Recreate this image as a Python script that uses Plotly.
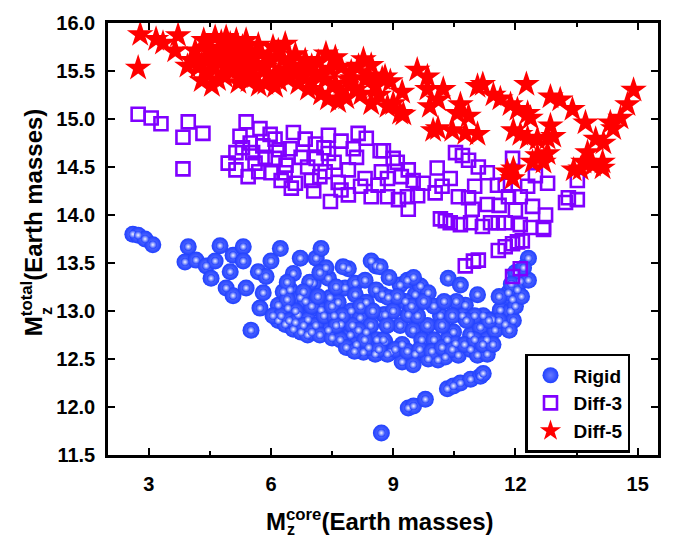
import plotly.graph_objects as go

# ---------------- data ----------------
rigid_x = [2.61, 2.74, 2.91, 3.10,
           3.97, 3.89, 4.16, 4.41, 4.63, 4.75, 4.53, 4.90, 5.07, 5.00, 5.07, 5.32, 5.32, 5.39, 5.69, 5.88, 5.81, 5.73, 6.00, 6.23, 5.51,
           6.18, 6.42, 6.47, 6.55, 6.72, 6.72, 6.67, 6.18, 6.35, 6.55, 6.74, 6.91, 6.85, 7.04, 7.11, 7.23, 6.95, 7.23, 7.41, 7.45, 7.41,
           7.65, 7.72, 7.82, 7.90, 7.77, 8.07, 7.97, 8.07, 8.19, 8.31, 8.34, 8.46, 8.58, 8.34, 8.27, 8.56, 8.58, 8.76, 8.80, 8.71,
           6.30, 6.60, 7.00, 7.10, 7.30, 7.55, 7.60, 7.95, 8.10, 8.45, 8.20, 7.35, 6.90, 8.00, 8.60,
           8.68, 8.73, 8.80, 8.76, 8.93, 9.17, 9.35, 8.88, 9.54, 9.67, 9.86, 9.17, 9.37, 9.49, 9.84, 10.16, 10.35, 10.65, 11.07, 10.77,
           10.70, 10.48, 10.33, 10.90, 11.14, 11.21, 11.43, 11.63, 11.88, 11.75, 11.93, 11.83, 12.05, 12.12, 12.32, 12.32,
           9.22, 9.54, 9.86, 10.10, 10.28, 10.60, 10.90, 11.07, 11.31, 10.53, 8.86, 9.22, 9.49,
           9.00, 9.30, 9.60, 9.70, 10.00, 10.00, 10.20, 10.55, 11.00, 11.30, 11.50, 11.60, 11.95, 12.00, 12.20, 11.90,
           6.05, 6.25, 6.45, 6.60, 6.80, 7.00, 7.20, 7.50, 7.70, 7.85, 8.05, 8.40, 8.65, 9.05, 9.35, 9.65, 9.95, 10.20, 10.45, 10.75,
           11.00, 11.20, 11.45, 11.60, 11.85, 12.00, 12.15, 6.40, 6.80, 7.15, 7.50, 7.75, 8.15, 8.50, 8.85, 9.10, 9.45, 9.75, 10.25,
           10.45, 10.80, 11.35, 8.90, 9.50, 7.20, 6.40, 7.60, 8.30,
           10.33, 10.48, 10.65, 10.90, 11.14, 11.21, 9.37, 9.50, 9.79]
rigid_y = [13.80, 13.79, 13.75, 13.69,
           13.67, 13.51, 13.53, 13.47, 13.52, 13.68, 13.34, 13.24, 13.16, 13.41, 13.58, 13.67, 13.52, 13.24, 13.41, 13.36, 13.19, 13.03, 13.52, 13.65, 12.80,
           13.06, 13.03, 13.22, 13.39, 13.55, 13.14, 12.96, 12.90, 12.86, 12.81, 12.78, 12.91, 13.10, 13.29, 13.55, 13.65, 13.30, 13.01, 13.34, 13.14, 12.80,
           13.09, 12.86, 13.24, 13.44, 13.46, 13.29, 13.00, 13.17, 12.93, 13.32, 13.09, 13.52, 13.47, 12.78, 12.57, 12.55, 13.22, 12.96, 12.68, 11.73,
           13.20, 13.00, 13.05, 12.85, 12.95, 12.95, 13.25, 12.75, 12.65, 12.85, 13.05, 13.45, 12.75, 12.85, 12.70,
           13.46, 13.17, 12.96, 12.70, 12.57, 13.27, 13.32, 13.14, 13.17, 13.26, 13.19, 12.85, 12.96, 12.80, 12.85, 12.95, 13.34, 13.27, 13.17, 13.06,
           12.95, 12.78, 12.70, 12.75, 12.83, 12.95, 12.91, 13.01, 13.00, 12.86, 13.12, 13.19, 13.22, 13.31, 13.32, 13.55,
           12.65, 12.55, 12.50, 12.49, 12.52, 12.54, 12.60, 12.54, 12.55, 12.66, 12.55, 12.47, 12.44,
           13.00, 13.10, 12.95, 12.70, 12.70, 13.05, 12.85, 13.10, 12.95, 12.70, 12.80, 13.15, 12.90, 13.40, 13.45, 13.28,
           12.95, 12.95, 12.90, 12.88, 12.85, 12.78, 12.75, 12.72, 12.70, 12.62, 12.58, 12.62, 12.60, 12.60, 12.58, 12.60, 12.58, 12.62, 12.60, 12.65,
           12.70, 12.65, 12.65, 12.90, 12.80, 13.05, 13.15, 13.12, 13.20, 13.15, 13.05, 12.95, 12.80, 13.00, 12.85, 13.15, 13.05, 13.10, 13.10,
           12.95, 12.90, 12.90, 13.35, 13.35, 13.40, 13.30, 12.85, 12.70,
           12.19, 12.22, 12.25, 12.29, 12.32, 12.35, 11.99, 12.01, 12.08]

diff3_x = [2.74, 3.06, 3.30, 3.97, 3.84, 4.33, 3.84,
           5.39, 5.24, 5.49, 5.73, 5.98, 6.10, 6.55, 6.84, 7.09, 7.41, 7.72, 8.14, 8.02, 8.34, 8.68, 5.14, 4.95, 5.14, 5.44, 5.61,
           5.86, 6.10, 6.00, 6.25, 6.37, 6.47, 6.74, 6.60, 6.99, 7.11, 7.33, 7.41, 7.65, 7.90, 7.90, 7.46, 7.72, 8.31, 8.63, 8.46, 8.71,
           5.30, 5.55, 5.80, 6.20, 6.35, 6.90, 7.20, 7.55, 7.05, 8.10, 8.20, 5.70, 6.50, 7.30,
           8.76, 9.00, 9.10, 9.37, 8.86, 8.86, 9.13, 9.35, 9.37, 9.49, 9.74, 10.08, 10.40, 10.03, 10.53, 10.70, 10.85, 11.09, 11.31,
           10.60, 10.85, 10.94, 11.31, 11.56, 11.75, 11.93, 11.83, 12.12, 12.42, 12.49, 12.79, 12.74, 12.69, 13.52, 13.30, 13.52, 13.23,
           9.20, 9.60, 10.20, 11.00, 11.60, 12.30, 12.00,
           10.16, 10.28, 10.40, 10.65, 10.90, 11.19, 11.39, 11.58, 11.75, 12.12, 12.37, 12.69,
           11.58, 11.75, 11.93, 12.05, 12.17, 10.77, 10.97, 11.09, 11.93, 12.12]
diff3_y = [15.05, 15.01, 14.95, 14.97, 14.81, 14.85, 14.48,
           14.97, 14.82, 14.75, 14.90, 14.84, 14.79, 14.86, 14.79, 14.74, 14.83, 14.77, 14.85, 14.69, 14.80, 14.67, 14.65, 14.54, 14.47, 14.40, 14.54,
           14.60, 14.59, 14.44, 14.36, 14.52, 14.69, 14.60, 14.33, 14.36, 14.59, 14.45, 14.64, 14.34, 14.47, 14.21, 14.14, 14.26, 14.38, 14.31, 14.19, 14.45,
           14.70, 14.65, 14.72, 14.68, 14.44, 14.50, 14.40, 14.55, 14.25, 14.60, 14.30, 14.45, 14.28, 14.70,
           14.67, 14.59, 14.55, 14.47, 14.38, 14.19, 14.16, 14.19, 14.06, 14.36, 14.33, 14.49, 14.38, 14.23, 14.65, 14.62, 14.57, 14.50, 14.44,
           14.19, 14.18, 14.06, 14.11, 14.31, 14.31, 14.59, 14.19, 14.19, 14.09, 14.41, 14.33, 14.00, 13.85, 14.36, 14.18, 14.16, 14.13,
           14.40, 14.20, 14.30, 14.30, 14.10, 14.30, 14.05,
           13.96, 13.94, 13.92, 13.90, 13.92, 13.88, 13.92, 13.92, 13.92, 13.90, 13.87, 13.87,
           13.63, 13.67, 13.70, 13.72, 13.73, 13.47, 13.52, 13.53, 13.36, 13.44]

diff5_x = [2.79, 3.18, 3.35, 3.72, 3.65, 2.74,
           4.14, 4.04, 4.21, 4.29, 4.46, 4.63, 4.78, 4.46, 4.70, 4.95, 5.12, 5.37, 5.61, 5.86, 5.93, 6.10, 6.35, 6.60, 5.44, 5.12, 4.87,
           4.46, 4.87, 4.70, 5.27, 5.61, 5.86, 6.10, 6.42, 6.67, 6.91, 7.23, 7.40, 7.65, 8.07, 8.22, 8.46, 8.56, 8.31, 7.09, 7.33, 7.58, 7.90, 8.80,
           5.39, 5.69, 6.35, 6.18, 6.60, 6.84, 7.16, 7.58, 7.72, 7.97, 8.27, 8.46,
           5.00, 5.25, 5.75, 6.00, 5.00, 4.60, 5.50, 6.45, 6.80, 7.00,
           4.35, 4.55, 4.80, 4.90, 5.15, 5.30, 5.45, 5.70, 5.95, 6.20, 6.30, 6.55, 6.75, 7.00, 7.25, 7.45, 7.70, 7.85, 8.00, 8.15,
           8.40, 8.65, 4.30, 4.55, 5.20, 3.95, 6.05, 7.35,
           8.73, 8.93, 9.22, 9.59, 9.84, 9.84, 10.23, 10.10, 9.90, 9.00, 9.17, 8.86, 9.25, 10.10, 10.45, 10.65, 10.85, 10.77, 11.07, 9.98, 10.57,
           11.07, 11.20, 11.46, 11.63, 11.88, 12.05, 12.30, 12.37, 11.95, 12.12, 12.30, 12.54, 12.86, 12.79, 12.93, 12.27, 12.86, 13.10, 13.40,
           13.72, 14.33, 14.40, 14.58, 14.75, 14.90, 13.97, 14.16, 13.77, 13.67, 13.43, 13.60, 13.90, 14.14, 14.14, 12.42, 12.54, 12.79, 12.69,
           11.80, 11.95, 11.93]
diff5_y = [15.88, 15.83, 15.79, 15.87, 15.71, 15.53,
           15.71, 15.61, 15.54, 15.57, 15.74, 15.85, 15.80, 15.64, 15.61, 15.67, 15.57, 15.61, 15.57, 15.54, 15.64, 15.47, 15.51, 15.47, 15.51, 15.71, 15.54,
           15.47, 15.44, 15.41, 15.47, 15.44, 15.37, 15.34, 15.42, 15.37, 15.31, 15.26, 15.21, 15.18, 15.30, 15.26, 15.16, 15.34, 15.41, 15.47, 15.41, 15.36, 15.41, 15.44,
           15.82, 15.77, 15.78, 15.71, 15.67, 15.61, 15.59, 15.64, 15.54, 15.49, 15.62, 15.56,
           15.78, 15.65, 15.68, 15.60, 15.50, 15.55, 15.70, 15.60, 15.45, 15.55,
           15.82, 15.68, 15.70, 15.85, 15.82, 15.75, 15.40, 15.35, 15.45, 15.40, 15.62, 15.55, 15.52, 15.38, 15.48, 15.52, 15.28, 15.22, 15.42, 15.55,
           15.45, 15.25, 15.40, 15.35, 15.38, 15.55, 15.75, 15.68,
           15.42, 15.39, 15.28, 15.51, 15.44, 15.31, 15.31, 15.20, 15.13, 15.16, 15.06, 15.13, 15.05, 14.90, 14.88, 15.15, 15.03, 14.85, 14.84, 14.88, 15.06,
           15.34, 15.36, 15.25, 15.21, 15.15, 15.10, 15.06, 15.01, 14.88, 14.84, 14.80, 14.79, 14.93, 14.80, 14.82, 15.36, 15.23, 15.20, 15.10,
           14.96, 14.96, 14.90, 15.01, 15.15, 15.30, 14.79, 14.75, 14.65, 14.55, 14.47, 14.48, 14.52, 14.55, 14.49, 14.55, 14.62, 14.64, 14.55,
           14.45, 14.48, 14.38]

x_ticks = [3, 6, 9, 12, 15]
y_ticks = [11.5, 12.0, 12.5, 13.0, 13.5, 14.0, 14.5, 15.0, 15.5, 16.0]
names = ["Rigid", "Diff-3", "Diff-5"]

# ---------------- figure ----------------
FONT = "Liberation Sans, Arial, sans-serif"
BLUE = "#2040ff"
fig = go.Figure()
# sphere body
fig.add_trace(go.Scatter(
    x=rigid_x, y=rigid_y, mode="markers", name=names[0],
    marker=dict(symbol="circle", size=17, color=BLUE,
                gradient=dict(type="radial", color="#6a7cff"),
                line=dict(width=0))))
# sphere highlight (same points, small glossy spot)
fig.add_trace(go.Scatter(
    x=rigid_x, y=rigid_y, mode="markers", showlegend=False, hoverinfo="skip",
    marker=dict(symbol="circle", size=8, color=BLUE,
                gradient=dict(type="radial", color="#f4f5ff"),
                line=dict(width=0))))
fig.add_trace(go.Scatter(
    x=diff3_x, y=diff3_y, mode="markers", name=names[1],
    marker=dict(symbol="square-open", size=13, color="#8000ff",
                line=dict(width=2.6, color="#8000ff"))))
fig.add_trace(go.Scatter(
    x=diff5_x, y=diff5_y, mode="markers", name=names[2],
    marker=dict(symbol="star", size=20, color="#ff0000", line=dict(width=0))))

axis_common = dict(
    showline=True, linecolor="black", linewidth=2.5, mirror="allticks",
    ticks="inside", ticklen=7, tickwidth=2, tickcolor="black",
    showgrid=False, zeroline=False,
    tickfont=dict(family=FONT, size=20, color="black", weight="bold"),
)
fig.update_xaxes(range=[2, 15.5], tickmode="array", tickvals=x_ticks,
                 ticktext=[str(v) for v in x_ticks], ticklabelstandoff=9,
                 minor=dict(dtick=1.5, tick0=0, ticks="inside", ticklen=4,
                            tickwidth=2, tickcolor="black"),
                 **axis_common)
fig.update_yaxes(range=[11.5, 16.0], tickmode="array", tickvals=y_ticks,
                 ticktext=[f"{v:.1f}" for v in y_ticks], ticklabelstandoff=6,
                 **axis_common)

TF = 24
def px_x(p):
    return (p - 108) / 550.0
def px_y(p):
    return (455 - p) / 440.0

annotations = [
    # x-axis title
    dict(text="M<sup>core</sup>(Earth masses)", xref="paper", yref="paper",
         x=px_x(264), y=px_y(539), xanchor="left", yanchor="bottom",
         showarrow=False, font=dict(family=FONT, size=TF, color="black", weight="bold")),
    dict(text="z", xref="paper", yref="paper",
         x=px_x(264 + 0.833 * TF + 1), y=px_y(542), xanchor="left", yanchor="bottom",
         showarrow=False, font=dict(family=FONT, size=int(TF * 0.7), color="black", weight="bold")),
    # y-axis title
    dict(text="M<sup>total</sup>(Earth masses)", xref="paper", yref="paper",
         x=px_x(15), y=px_y(336), xanchor="left", yanchor="bottom", textangle=-90,
         showarrow=False, font=dict(family=FONT, size=TF, color="black", weight="bold")),
    dict(text="z", xref="paper", yref="paper",
         x=px_x(36), y=px_y(336 - 0.833 * TF - 1), xanchor="left", yanchor="bottom", textangle=-90,
         showarrow=False, font=dict(family=FONT, size=int(TF * 0.7), color="black", weight="bold")),
]

fig.update_layout(
    width=676, height=537,
    margin=dict(l=108, r=18, t=15, b=82, pad=0),
    paper_bgcolor="white", plot_bgcolor="white",
    font=dict(family=FONT, color="black"),
    showlegend=True,
    legend=dict(x=px_x(525), y=px_y(352), xanchor="left", yanchor="top",
                bgcolor="white", bordercolor="black", borderwidth=2.5,
                font=dict(family=FONT, size=19, color="black", weight="bold"),
                itemsizing="trace", itemwidth=36, tracegroupgap=0),
    annotations=annotations,
)

fig.write_html("out.html")
